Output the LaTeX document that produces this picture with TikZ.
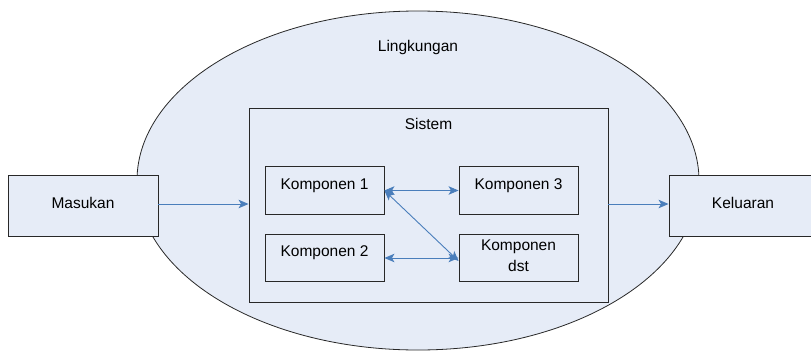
\documentclass[tikz,border=0pt]{standalone}
\usepackage{fontspec}
\setmainfont{Liberation Sans}
\usetikzlibrary{shapes.geometric,arrows.meta}

\definecolor{paleblue}{RGB}{230,236,247}
\definecolor{edgegray}{RGB}{40,40,40}
\definecolor{flowblue}{RGB}{74,126,187}

\tikzset{
  every node/.style={font=\fontsize{15.5pt}{21pt}\selectfont, inner sep=0pt},
  env/.style={ellipse, draw=edgegray, fill=paleblue, line width=0.8pt},
  frame/.style={rectangle, draw=edgegray, fill=paleblue, line width=0.9pt},
  iobox/.style={frame, minimum height=61pt, text height=12pt, text depth=6pt},
  compbox/.style={frame, minimum width=119pt, minimum height=47.5pt, text height=12pt, text depth=15pt},
  tip/.tip={Stealth[length=10pt,width=8.5pt,inset=2.5pt]},
  flow/.style={draw=flowblue, line width=0.9pt, -tip},
  link/.style={draw=flowblue, line width=0.9pt, tip-tip}
}

\begin{document}
\begin{tikzpicture}[x=1pt, y=-1pt]
  \useasboundingbox (0,0) rectangle (811,351);

  % surroundings
  \node[env, minimum width=562pt, minimum height=339pt] (envr) at (418,180.5) {};
  \node (envlabel) at (418,47) {Lingkungan};

  % system boundary
  \node[frame, minimum width=359pt, minimum height=194pt] (sys) at (428.5,205) {};
  \node (syslabel) at (428.5,124) {Sistem};

  % input and output
  \node[iobox, minimum width=150pt] (in) at (83,205.5) {Masukan};
  \node[iobox, minimum width=148pt] (out) at (743,205.5) {Keluaran};

  % components
  \node[compbox] (k1) at (324.5,190.5) {Komponen 1};
  \node[compbox] (k3) at (518.5,190.5) {Komponen 3};
  \node[compbox] (k2) at (324.5,258) {Komponen 2};
  \node[frame, minimum width=119pt, minimum height=47.5pt,
        label={[align=center, yshift=2pt]center:Komponen\\dst}] (kd) at (518.5,258) {};

  % ports for the flows across the system boundary
  \coordinate (inport) at ([yshift=1.5pt]in.east);
  \coordinate (outport) at ([yshift=1.5pt]out.west);
  \coordinate (kdport) at ([yshift=-3pt]kd.west);

  % flows
  \draw[flow] (inport) -- (sys.west |- inport);
  \draw[flow] (sys.east |- outport) -- (outport);

  % interactions between components
  \draw[link] (k1.east) -- (k3.west);
  \draw[link] (k2.east) -- (kd.west);
  \draw[link] (k1.east) -- (kdport);
\end{tikzpicture}
\end{document}
